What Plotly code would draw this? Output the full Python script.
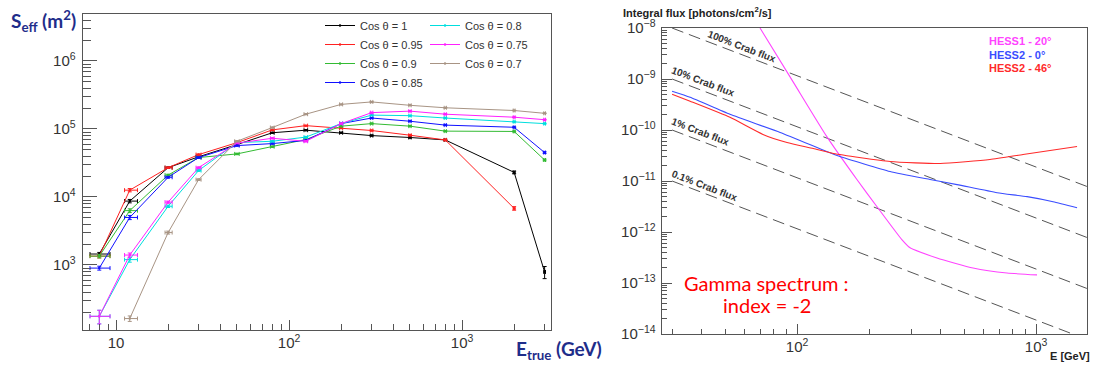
import plotly.graph_objects as go

# ---------------- Left panel data: effective area vs true energy ----------------
energy_gev = [8, 12, 20, 30, 50, 80, 125, 200, 300, 500, 800, 2000, 3000]
x_err_minus = [0.93, 0.8, 0.8, 1.0, 1.5, 2, 3, 4, 5, 8, 12, 25, 35]
x_err_plus = [1.23, 1.3, 1.1, 1.0, 1.5, 2, 3, 4, 5, 8, 12, 25, 35]

series_names = ["Cos θ = 1", "Cos θ = 0.95", "Cos θ = 0.9", "Cos θ = 0.85",
                "Cos θ = 0.8", "Cos θ = 0.75", "Cos θ = 0.7"]
series_colors = ["#000000", "#ff2020", "#33bb33", "#1010ff", "#00dede", "#ff20ff", "#a89484"]

seff_cos100 = [1450, 8700, 27000, 39000, 59000, 88000, 96000, 88000, 80000, 75000, 69000, 23000, 790]
seff_cos095 = [1350, 12600, 27000, 42000, 63000, 97000, 112000, 103000, 95000, 81000, 69000, 6800, None]
seff_cos090 = [1350, 6300, 21000, 38000, 43000, 55000, 70000, 110000, 120000, 110000, 93000, 92000, 35000]
seff_cos085 = [900, 5000, 19500, 38000, 57000, 61000, 68000, 120000, 145000, 130000, 114000, 106000, 45000]
seff_cos080 = [176, 1200, 7300, 24500, 63000, 66000, 76000, 120000, 160000, 157000, 145000, 128000, 120000]
seff_cos075 = [176, 1400, 8400, 27000, 62000, 73000, 66000, 120000, 174000, 183000, 165000, 149000, 137000]
seff_cos070 = [None, 163, 3000, 18000, 66000, 105000, 165000, 230000, 250000, 223000, 205000, 187000, 170000]

yerr_cos100 = [80, 500, 700, 900, 1200, 1500, 1500, 1500, 1500, 1500, 1500, 1000, 160]
yerr_cos095 = [80, 700, 700, 900, 1200, 1500, 1500, 1500, 1500, 1500, 1500, 400, 0]
yerr_cos090 = [80, 400, 600, 900, 1000, 1200, 1200, 1500, 1500, 1500, 1500, 1500, 1000]
yerr_cos085 = [60, 350, 600, 900, 1200, 1200, 1200, 1500, 1500, 1500, 1500, 1500, 1200]
yerr_cos080 = [40, 100, 300, 700, 1200, 1200, 1200, 1500, 1500, 1500, 1500, 1500, 1500]
yerr_cos075 = [40, 100, 300, 700, 1200, 1200, 1200, 1500, 1500, 1500, 1500, 1500, 1500]
yerr_cos070 = [0, 15, 150, 500, 1200, 1500, 1500, 1500, 1500, 1500, 1500, 1500, 1500]

seff_series = [seff_cos100, seff_cos095, seff_cos090, seff_cos085, seff_cos080, seff_cos075, seff_cos070]
yerr_series = [yerr_cos100, yerr_cos095, yerr_cos090, yerr_cos085, yerr_cos080, yerr_cos075, yerr_cos070]
legend_of_series = ["legend", "legend", "legend", "legend", "legend2", "legend2", "legend2"]

# ---------------- Right panel data: integral flux sensitivity ----------------
crab_energy = [30, 100, 300, 1000, 2000]
crab100_flux = [1.0e-8, 1.16e-9, 1.62e-10, 1.88e-11, 5.43e-12]
crab_fractions = [1.0, 0.1, 0.01, 0.001]
crab_labels = ["100% Crab flux", "10% Crab flux", "1% Crab flux", "0.1% Crab flux"]

hess1_20_energy = [70, 97, 133, 178, 216, 275, 297, 385, 545, 756, 1009]
hess1_20_flux = [1.0e-8, 8.3e-10, 7.5e-11, 1.07e-11, 3.13e-12, 7.0e-13, 4.9e-13, 3.1e-13, 1.97e-13, 1.57e-13, 1.44e-13]

hess2_0_energy = [30, 35.7, 52.4, 85, 133, 151, 245, 360, 467, 687, 917, 1178, 1484]
hess2_0_flux = [5.75e-10, 4.38e-10, 2.03e-10, 8.97e-11, 3.79e-11, 3.02e-11, 1.53e-11, 1.07e-11, 8.5e-12, 5.9e-12, 4.93e-12, 3.93e-12, 2.99e-12]

hess2_46_energy = [30, 35.7, 52.4, 72, 90.8, 117, 142, 245, 397, 641, 882, 1484]
hess2_46_flux = [5.02e-10, 3.66e-10, 1.77e-10, 8.2e-11, 5.7e-11, 4.34e-11, 3.46e-11, 2.41e-11, 2.2e-11, 2.64e-11, 3.31e-11, 4.75e-11]

hess_names = ["HESS1 - 20°", "HESS2 - 0°", "HESS2 - 46°"]
hess_colors = ["#ff44ff", "#3a4dff", "#ff2a2a"]

W, H = 1094, 365


def px(x):
    return x / W


def py(y):
    return 1 - y / H


fig = go.Figure()

for name, color, yv, ye, lg in zip(series_names, series_colors, seff_series, yerr_series, legend_of_series):
    fig.add_trace(go.Scatter(
        x=energy_gev, y=yv, name=name, mode="lines+markers",
        line=dict(color=color, width=1), marker=dict(color=color, size=2.5),
        error_x=dict(type="data", array=x_err_plus, arrayminus=x_err_minus,
                     color=color, thickness=1, width=2),
        error_y=dict(type="data", array=ye, color=color, thickness=1, width=2),
        xaxis="x", yaxis="y", legend=lg, connectgaps=False,
    ))

for frac in crab_fractions:
    fig.add_trace(go.Scatter(
        x=crab_energy, y=[f * frac for f in crab100_flux], mode="lines",
        line=dict(color="#555555", width=1, dash="12px,6px"),
        xaxis="x2", yaxis="y2", showlegend=False, hoverinfo="skip",
    ))

for xs, ys, col in zip([hess1_20_energy, hess2_0_energy, hess2_46_energy],
                       [hess1_20_flux, hess2_0_flux, hess2_46_flux], hess_colors):
    fig.add_trace(go.Scatter(
        x=xs, y=ys, mode="lines", line=dict(color=col, width=1.1, shape="spline", smoothing=0.5),
        xaxis="x2", yaxis="y2", showlegend=False,
    ))

tickfont = dict(family="Liberation Sans, Arial, sans-serif", size=12, color="#333333")
axis_common = dict(type="log", showline=True, linecolor="#555555", linewidth=1, mirror=True,
                   showgrid=False, zeroline=False, ticks="inside", tickcolor="#555555",
                   exponentformat="power", tickfont=tickfont, dtick=1, automargin=False)

annotations = []
# Left panel titles
annotations.append(dict(xref="paper", yref="paper", x=px(9), y=py(21), xanchor="left", yanchor="middle",
                        text="<b>S<sub>eff</sub> (m<sup>2</sup>)</b>", showarrow=False,
                        font=dict(family="Lato, sans-serif", size=19, color="#1f2d8a")))
annotations.append(dict(xref="paper", yref="paper", x=px(604), y=py(350), xanchor="right", yanchor="middle",
                        text="<b>E<sub>true</sub> (GeV)</b>", showarrow=False,
                        font=dict(family="Lato, sans-serif", size=19, color="#1f2d8a")))
# Right panel titles
annotations.append(dict(xref="paper", yref="paper", x=px(621), y=py(12), xanchor="left", yanchor="middle",
                        text="<b>Integral flux [photons/cm<sup>2</sup>/s]</b>", showarrow=False,
                        font=dict(family="Liberation Sans, Arial, sans-serif", size=11, color="#222222")))
annotations.append(dict(xref="paper", yref="paper", x=px(1092), y=py(356), xanchor="right", yanchor="middle",
                        text="<b>E [GeV]</b>", showarrow=False,
                        font=dict(family="Liberation Sans, Arial, sans-serif", size=11, color="#222222")))
# HESS legend texts
for i, (nm, col) in enumerate(zip(hess_names, hess_colors)):
    annotations.append(dict(xref="paper", yref="paper", x=px(987), y=py(41 + 13.5 * i), xanchor="left",
                            yanchor="middle", text="<b>" + nm + "</b>", showarrow=False,
                            font=dict(family="Liberation Sans, Arial, sans-serif", size=11, color=col)))
# Crab labels along lines (log coordinates)
crab_label_pos = [(1.770, -8.354), (1.607, -9.043), (1.594, -10.03), (1.611, -11.09)]
for lbl, (lx, ly) in zip(crab_labels, crab_label_pos):
    annotations.append(dict(xref="x2", yref="y2", x=lx, y=ly, text="<b>" + lbl + "</b>", showarrow=False,
                            xanchor="center", yanchor="middle",
                            textangle=21, font=dict(family="Liberation Sans, Arial, sans-serif", size=10,
                                                    color="#333333")))
# Gamma spectrum note
annotations.append(dict(xref="paper", yref="paper", x=px(766), y=py(283), text="Gamma spectrum :",
                        xanchor="center", yanchor="middle",
                        showarrow=False, font=dict(family="Lato, sans-serif", size=20, color="#ff0000")))
annotations.append(dict(xref="paper", yref="paper", x=px(767), y=py(305), text="index = -2",
                        xanchor="center", yanchor="middle",
                        showarrow=False, font=dict(family="Lato, sans-serif", size=20, color="#ff0000")))

legend_font = dict(family="Liberation Sans, Arial, sans-serif", size=11, color="#333333")

fig.update_layout(
    width=W, height=H, margin=dict(l=0, r=0, t=0, b=0, autoexpand=False),
    paper_bgcolor="white", plot_bgcolor="white",
    xaxis=dict(axis_common, domain=[px(83), px(551)], range=[0.809, 3.514],
               ticklen=10, minor=dict(ticks="inside", ticklen=6, dtick="D1", tickcolor="#555555"),
               anchor="y"),
    yaxis=dict(axis_common, domain=[py(330), py(14)], range=[2.044, 6.691],
               ticklen=14, minor=dict(ticks="inside", ticklen=8, dtick="D1", tickcolor="#555555"),
               anchor="x", ticklabelstandoff=4),
    xaxis2=dict(axis_common, domain=[px(662), px(1087)], range=[1.435, 3.213],
                ticklen=10, minor=dict(ticks="inside", ticklen=5, dtick="D1", tickcolor="#555555"),
                anchor="y2"),
    yaxis2=dict(axis_common, domain=[py(334), py(28)], range=[-14, -8],
                ticklen=10, minor=dict(ticks="inside", ticklen=5, dtick="D1", tickcolor="#555555"),
                anchor="x2", ticklabelstandoff=3),
    legend=dict(x=px(320), y=py(11), xanchor="left", yanchor="top", font=legend_font,
                bgcolor="rgba(0,0,0,0)", itemwidth=30, tracegroupgap=0),
    legend2=dict(x=px(425), y=py(11), xanchor="left", yanchor="top", font=legend_font,
                 bgcolor="rgba(0,0,0,0)", itemwidth=30, tracegroupgap=0),
    annotations=annotations,
    showlegend=True,
)

fig.write_html("out.html", config={"displayModeBar": False},
               post_script="document.body.style.margin='0';document.body.style.overflow='hidden';")
